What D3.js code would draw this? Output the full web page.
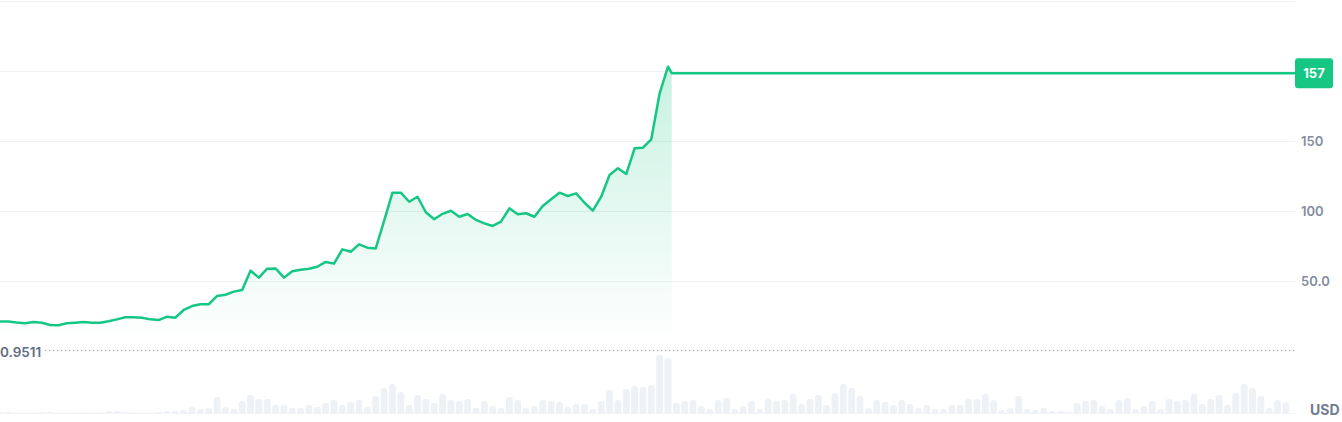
<!DOCTYPE html>
<html>
<head>
<meta charset="utf-8">
<script src="https://cdn.jsdelivr.net/npm/d3@7/dist/d3.min.js"></script>
<style>
  html, body { margin: 0; padding: 0; background: #fff; }
  svg { display: block; font-family: Inter, "Noto Sans", sans-serif; }
</style>
</head>
<body>
<svg id="chart" width="1342" height="422"></svg>
<script>
// ---- data ----
const prices = [21.0,21.0,20.3,19.8,20.7,20.2,18.6,18.4,19.8,20.2,
  20.7,20.2,20.2,21.2,22.6,24.1,24.1,23.8,22.6,22.1,
  24.5,23.8,29.3,32.1,33.4,33.4,39.3,40.2,42.4,43.6,
  57.4,52.4,58.8,59.0,52.4,56.9,58.1,58.8,60.2,63.6,
  62.4,72.6,70.9,76.2,73.8,73.3,93.0,113.1,113.1,106.6,
  110.2,99.1,94.1,98.0,100.2,95.9,97.9,93.6,91.2,89.3,
  92.4,101.9,97.6,98.4,95.9,103.6,108.4,113.1,110.7,112.6,
  105.9,100.2,110.2,125.7,130.5,126.4,144.8,145.2,151.2,184.1,
  203.1];
const lastPrice = 198.4;
const lastPriceIndex = 80.45;
const lastPriceLabel = "157";
const volumes = [1,1,0.5,0.5,0.5,1,1,0.5,0.5,0.5,
  0.5,0.5,0.5,2,2,1,0.5,0.5,0.5,1,
  2,2,3,6,4,5,16,6,4,12,
  18,14,14,8,8,5,5,8,6,10,
  13,8,11,13,6,17,25,29,21,8,
  18,14,10,19,13,12,14,5,12,7,
  5,16,13,5,7,13,12,11,6,9,
  9,4,12,23,13,24,27,26,28,58,
  55,10,12,13,7,4,13,15,4,7,
  12,4,14,12,13,19,9,14,18,8,
  20,29,25,17,5,13,11,8,13,9,
  5,8,4,4,8,8,14,14,19,13,
  3,5,17,4,3,5,2,2,1,10,
  12,13,7,4,13,15,4,7,12,4,
  14,12,13,19,9,14,18,8,20,29,
  25,17,5,13,11];
const gridValues = [50, 100, 150, 200, 250];
const tickValues = [50, 100, 150];
const tickLabels = ["50.0", "100", "150"];
const baselineValue = 0.9511;
const baselineLabel = "0.9511";
const currencyLabel = "USD";

// ---- layout ----
const W = 1342, H = 422;
const plotRight = 1295;
const svg = d3.select("#chart");
const x = d3.scaleLinear().domain([0, 80]).range([0, 668]);
const y = d3.scaleLinear().domain([50, 150]).range([281, 141]);
const yv = d3.scaleLinear().domain([0, 58]).range([413, 355]);

const defs = svg.append("defs");
const grad = defs.append("linearGradient").attr("id", "areaGrad")
  .attr("gradientUnits", "userSpaceOnUse")
  .attr("x1", 0).attr("x2", 0).attr("y1", y(205)).attr("y2", y(baselineValue) - 8);
grad.append("stop").attr("offset", 0).attr("stop-color", "#16c784").attr("stop-opacity", 0.24);
grad.append("stop").attr("offset", 1).attr("stop-color", "#16c784").attr("stop-opacity", 0.0);
defs.append("clipPath").attr("id", "plotClip").append("rect")
  .attr("x", 0).attr("y", 0).attr("width", plotRight).attr("height", H);

// gridlines
svg.append("g").selectAll("line").data(gridValues).join("line")
  .attr("x1", 0).attr("x2", plotRight)
  .attr("y1", d => Math.round(y(d)) + 0.5).attr("y2", d => Math.round(y(d)) + 0.5)
  .attr("stroke", "#eff1f4").attr("stroke-width", 1);

// volume bars
const bw = 6.8, r = 3;
const vg = svg.append("g").attr("clip-path", "url(#plotClip)");
vg.selectAll("path").data(volumes).join("path")
  .attr("d", (d, i) => {
    const cx = x(i), x0 = cx - bw / 2, x1 = cx + bw / 2;
    const yb = yv(0), yt = yv(d);
    const rr = Math.min(r, (yb - yt));
    return `M${x0},${yb}L${x0},${yt + rr}Q${x0},${yt} ${x0 + rr},${yt}L${x1 - rr},${yt}Q${x1},${yt} ${x1},${yt + rr}L${x1},${yb}Z`;
  })
  .attr("fill", "#eef1f5");
svg.append("line").attr("x1", 0).attr("x2", plotRight)
  .attr("y1", yv(0) + 0.5).attr("y2", yv(0) + 0.5)
  .attr("stroke", "#f1f3f6").attr("stroke-width", 1);

// baseline dotted
svg.append("line")
  .attr("x1", 45).attr("x2", plotRight)
  .attr("y1", Math.round(y(baselineValue)) + 0.5).attr("y2", Math.round(y(baselineValue)) + 0.5)
  .attr("stroke", "#a3a9b8").attr("stroke-width", 1).attr("stroke-dasharray", "1.3,2.7");
svg.append("text").attr("x", 0).attr("y", y(baselineValue) + 7.5)
  .attr("font-size", 13.5).attr("font-weight", 600).attr("fill", "#616e85")
  .text(baselineLabel);

// area + line
const pts = prices.map((v, i) => [x(i), y(v)]);
pts.push([x(lastPriceIndex), y(lastPrice)]);
svg.append("path")
  .attr("d", d3.area().x(d => d[0]).y0(y(baselineValue) - 12).y1(d => d[1])(pts))
  .attr("fill", "url(#areaGrad)");
const linePts = pts.concat([[plotRight, y(lastPrice)]]);
svg.append("path")
  .attr("d", d3.line()(linePts))
  .attr("fill", "none").attr("stroke", "#16c784").attr("stroke-width", 2.5)
  .attr("stroke-linejoin", "round");

// axis labels
svg.append("g").selectAll("text").data(tickValues).join("text")
  .attr("x", 1301).attr("y", d => y(d) + 4.5)
  .attr("font-size", 13).attr("font-weight", 600).attr("fill", "#858ca0")
  .text((d, i) => tickLabels[i]);

// current price label
const ly = y(lastPrice);
svg.append("rect").attr("x", plotRight).attr("y", ly - 15).attr("width", 38).attr("height", 30)
  .attr("rx", 3).attr("fill", "#16c784");
svg.append("text").attr("x", plotRight + 19).attr("y", ly + 4.5).attr("text-anchor", "middle")
  .attr("font-size", 13).attr("font-weight", 700).attr("fill", "#ffffff")
  .text(lastPriceLabel);

// currency
svg.append("text").attr("x", 1310).attr("y", 415)
  .attr("font-size", 14).attr("font-weight", 700).attr("fill", "#717b91")
  .text(currencyLabel);
</script>
</body>
</html>
